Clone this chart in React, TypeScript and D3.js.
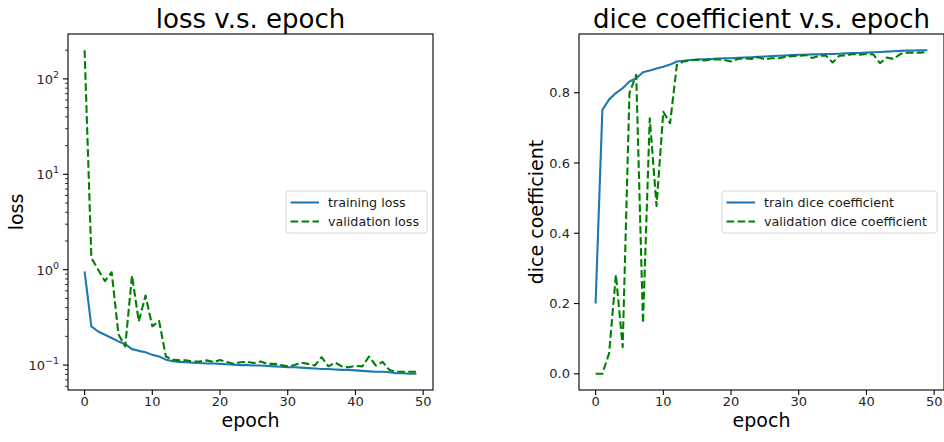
import React, { useRef, useEffect } from 'react';
import * as d3 from 'd3';

const trainLoss = [
  0.96, 0.255, 0.225, 0.208, 0.192, 0.177, 0.166, 0.147, 0.141, 0.136,
  0.128, 0.123, 0.114, 0.110, 0.108, 0.107, 0.106, 0.105, 0.104, 0.104,
  0.103, 0.102, 0.101, 0.100, 0.100, 0.099, 0.099, 0.098, 0.097, 0.096,
  0.095, 0.095, 0.094, 0.093, 0.092, 0.091, 0.091, 0.090, 0.089, 0.089,
  0.088, 0.087, 0.086, 0.085, 0.085, 0.084, 0.082, 0.082, 0.081, 0.081,
];
const valLoss = [
  200, 1.33, 1.0, 0.76, 0.94, 0.21, 0.157, 0.87, 0.287, 0.535,
  0.255, 0.29, 0.123, 0.114, 0.112, 0.112, 0.109, 0.109, 0.112, 0.108,
  0.113, 0.108, 0.103, 0.107, 0.108, 0.105, 0.109, 0.103, 0.103, 0.100,
  0.097, 0.100, 0.106, 0.103, 0.099, 0.121, 0.097, 0.106, 0.097, 0.095,
  0.098, 0.097, 0.123, 0.099, 0.108, 0.089, 0.085, 0.085, 0.085, 0.085,
];
const trainDice = [
  0.2, 0.751, 0.781, 0.799, 0.813, 0.832, 0.841, 0.858, 0.863, 0.869,
  0.874, 0.88, 0.889, 0.891, 0.893, 0.894, 0.895, 0.896, 0.897, 0.898,
  0.898, 0.899, 0.900, 0.901, 0.902, 0.903, 0.904, 0.905, 0.906, 0.907,
  0.908, 0.908, 0.909, 0.909, 0.910, 0.910, 0.911, 0.912, 0.913, 0.913,
  0.914, 0.915, 0.916, 0.917, 0.918, 0.919, 0.920, 0.920, 0.921, 0.921,
];
const valDice = [
  0.0, 0.0, 0.059, 0.282, 0.076, 0.799, 0.851, 0.144, 0.727, 0.478,
  0.746, 0.713, 0.879, 0.889, 0.892, 0.894, 0.892, 0.894, 0.895, 0.893,
  0.889, 0.896, 0.898, 0.896, 0.901, 0.895, 0.898, 0.898, 0.902, 0.904,
  0.905, 0.907, 0.899, 0.905, 0.906, 0.886, 0.905, 0.906, 0.910, 0.908,
  0.910, 0.909, 0.884, 0.900, 0.896, 0.910, 0.914, 0.914, 0.914, 0.916,
];

const xTicks = [0, 10, 20, 30, 40, 50];
const lossTicks = [-1, 0, 1, 2];
const diceTicks = [0.0, 0.2, 0.4, 0.6, 0.8];

const font = '"DejaVu Sans", sans-serif';
const blue = '#1f77b4';
const green = '#008000';

function App() {
  const chartRef = useRef<SVGSVGElement>(null);

  useEffect(() => {
    const svg = d3.select(chartRef.current);
    svg.selectAll('*').remove();

    const width = 944, height = 442;
    svg.attr('width', width).attr('height', height)
      .style('font-family', font);

    const top = 34, bottom = 390;
    const n = trainLoss.length;
    const pad = (n - 1) * 0.05;

    const drawPanel = (opts) => {
      const { left, right, yScale, series, title, ylabel, legend, yTickFmt, yTickVals, minor, legendBox } = opts;
      const g = svg.append('g');
      const x = d3.scaleLinear().domain([-pad, n - 1 + pad]).range([left, right]);

      // lines
      series.forEach((s) => {
        const line = d3.line<number>()
          .x((d, i) => x(i))
          .y((d) => yScale(d));
        g.append('path')
          .datum(s.values)
          .attr('fill', 'none')
          .attr('stroke', s.color)
          .attr('stroke-width', 2.1)
          .attr('stroke-dasharray', s.dash ? '7.7,3.3' : null)
          .attr('stroke-linejoin', 'round')
          .attr('d', line);
      });

      // frame
      g.append('rect')
        .attr('x', left).attr('y', top)
        .attr('width', right - left).attr('height', bottom - top)
        .attr('fill', 'none').attr('stroke', '#000').attr('stroke-width', 1.1);

      // x ticks
      xTicks.forEach((t) => {
        g.append('line')
          .attr('x1', x(t)).attr('x2', x(t))
          .attr('y1', bottom).attr('y2', bottom + 5)
          .attr('stroke', '#000').attr('stroke-width', 1.1);
        g.append('text')
          .attr('x', x(t)).attr('y', bottom + 16)
          .attr('text-anchor', 'middle')
          .attr('font-size', 13)
          .attr('fill', '#262626')
          .text(t);
      });

      // y minor ticks
      (minor || []).forEach((v) => {
        g.append('line')
          .attr('x1', left - 3).attr('x2', left)
          .attr('y1', yScale(v)).attr('y2', yScale(v))
          .attr('stroke', '#000').attr('stroke-width', 0.8);
      });

      // y ticks
      yTickVals.forEach((v) => {
        const yy = yScale(v);
        g.append('line')
          .attr('x1', left - 5).attr('x2', left)
          .attr('y1', yy).attr('y2', yy)
          .attr('stroke', '#000').attr('stroke-width', 1.1);
        yTickFmt(g, left - 9, yy, v);
      });

      // title
      g.append('text')
        .attr('x', (left + right) / 2).attr('y', 28)
        .attr('text-anchor', 'middle')
        .attr('font-size', 26)
        .text(title);

      // x label
      g.append('text')
        .attr('x', (left + right) / 2).attr('y', 427)
        .attr('text-anchor', 'middle')
        .attr('font-size', 19)
        .text('epoch');

      // y label
      g.append('text')
        .attr('transform', `translate(${ylabel.x},${(top + bottom) / 2}) rotate(-90)`)
        .attr('text-anchor', 'middle')
        .attr('font-size', 19)
        .text(ylabel.text);

      // legend
      const lg = g.append('g');
      lg.append('rect')
        .attr('x', legendBox.x).attr('y', 191)
        .attr('width', legendBox.w).attr('height', 42)
        .attr('rx', 3)
        .attr('fill', '#fff').attr('fill-opacity', 0.8)
        .attr('stroke', '#d6d6d6').attr('stroke-width', 1);
      series.forEach((s, i) => {
        const ly = 202.5 + i * 19;
        lg.append('line')
          .attr('x1', legendBox.x + 4.5).attr('x2', legendBox.x + 33)
          .attr('y1', ly).attr('y2', ly)
          .attr('stroke', s.color).attr('stroke-width', 2.1)
          .attr('stroke-dasharray', s.dash ? '7.7,3.3' : null);
        lg.append('text')
          .attr('x', legendBox.x + 42).attr('y', ly)
          .attr('dy', '0.35em')
          .attr('font-size', 12.7)
          .attr('fill', '#1a1a1a')
          .text(legend[i]);
      });
    };

    // left: log scale loss
    const allLoss = trainLoss.concat(valLoss);
    const lmin = Math.log10(d3.min(allLoss));
    const lmax = Math.log10(d3.max(allLoss));
    const lpad = (lmax - lmin) * 0.05;
    const yLoss = d3.scaleLog()
      .domain([Math.pow(10, lmin - lpad), Math.pow(10, lmax + lpad)])
      .range([bottom, top]);
    const minorLoss = [];
    for (let e = -2; e <= 2; e++) {
      for (let k = 2; k <= 9; k++) {
        const v = k * Math.pow(10, e);
        if (v >= yLoss.domain()[0] && v <= yLoss.domain()[1]) minorLoss.push(v);
      }
    }

    drawPanel({
      left: 68, right: 433,
      yScale: yLoss,
      series: [
        { values: trainLoss, color: blue, dash: false },
        { values: valLoss, color: green, dash: true },
      ],
      title: 'loss v.s. epoch',
      ylabel: { x: 23, text: 'loss' },
      legend: ['training loss', 'validation loss'],
      legendBox: { x: 286, w: 141 },
      yTickVals: lossTicks.map((e) => Math.pow(10, e)),
      minor: minorLoss,
      yTickFmt: (g, xx, yy, v) => {
        const e = Math.round(Math.log10(v));
        const t = g.append('text')
          .attr('x', xx).attr('y', yy + 5)
          .attr('text-anchor', 'end')
          .attr('font-size', 13)
          .attr('fill', '#262626');
        t.append('tspan').text('10');
        t.append('tspan')
          .attr('dy', -6)
          .attr('font-size', 9.5)
          .text(e < 0 ? '\u2212' + Math.abs(e) : String(e));
      },
    });

    // right: dice
    const allDice = trainDice.concat(valDice);
    const dmin = d3.min(allDice), dmax = d3.max(allDice);
    const dpad = (dmax - dmin) * 0.05;
    const yDice = d3.scaleLinear()
      .domain([dmin - dpad, dmax + dpad])
      .range([bottom, top]);

    drawPanel({
      left: 579, right: 944,
      yScale: yDice,
      series: [
        { values: trainDice, color: blue, dash: false },
        { values: valDice, color: green, dash: true },
      ],
      title: 'dice coefficient v.s. epoch',
      ylabel: { x: 543, text: 'dice coefficient' },
      legend: ['train dice coefficient', 'validation dice coefficient'],
      legendBox: { x: 722, w: 215 },
      yTickVals: diceTicks,
      minor: [],
      yTickFmt: (g, xx, yy, v) => {
        g.append('text')
          .attr('x', xx).attr('y', yy)
          .attr('dy', '0.35em')
          .attr('text-anchor', 'end')
          .attr('font-size', 13)
          .attr('fill', '#262626')
          .text(d3.format('.1f')(v));
      },
    });
  }, []);

  return (
    <svg
      ref={chartRef}
      style={{ position: 'absolute', left: 0, top: 0, background: '#fff' }}
    ></svg>
  );
}

export default App;
